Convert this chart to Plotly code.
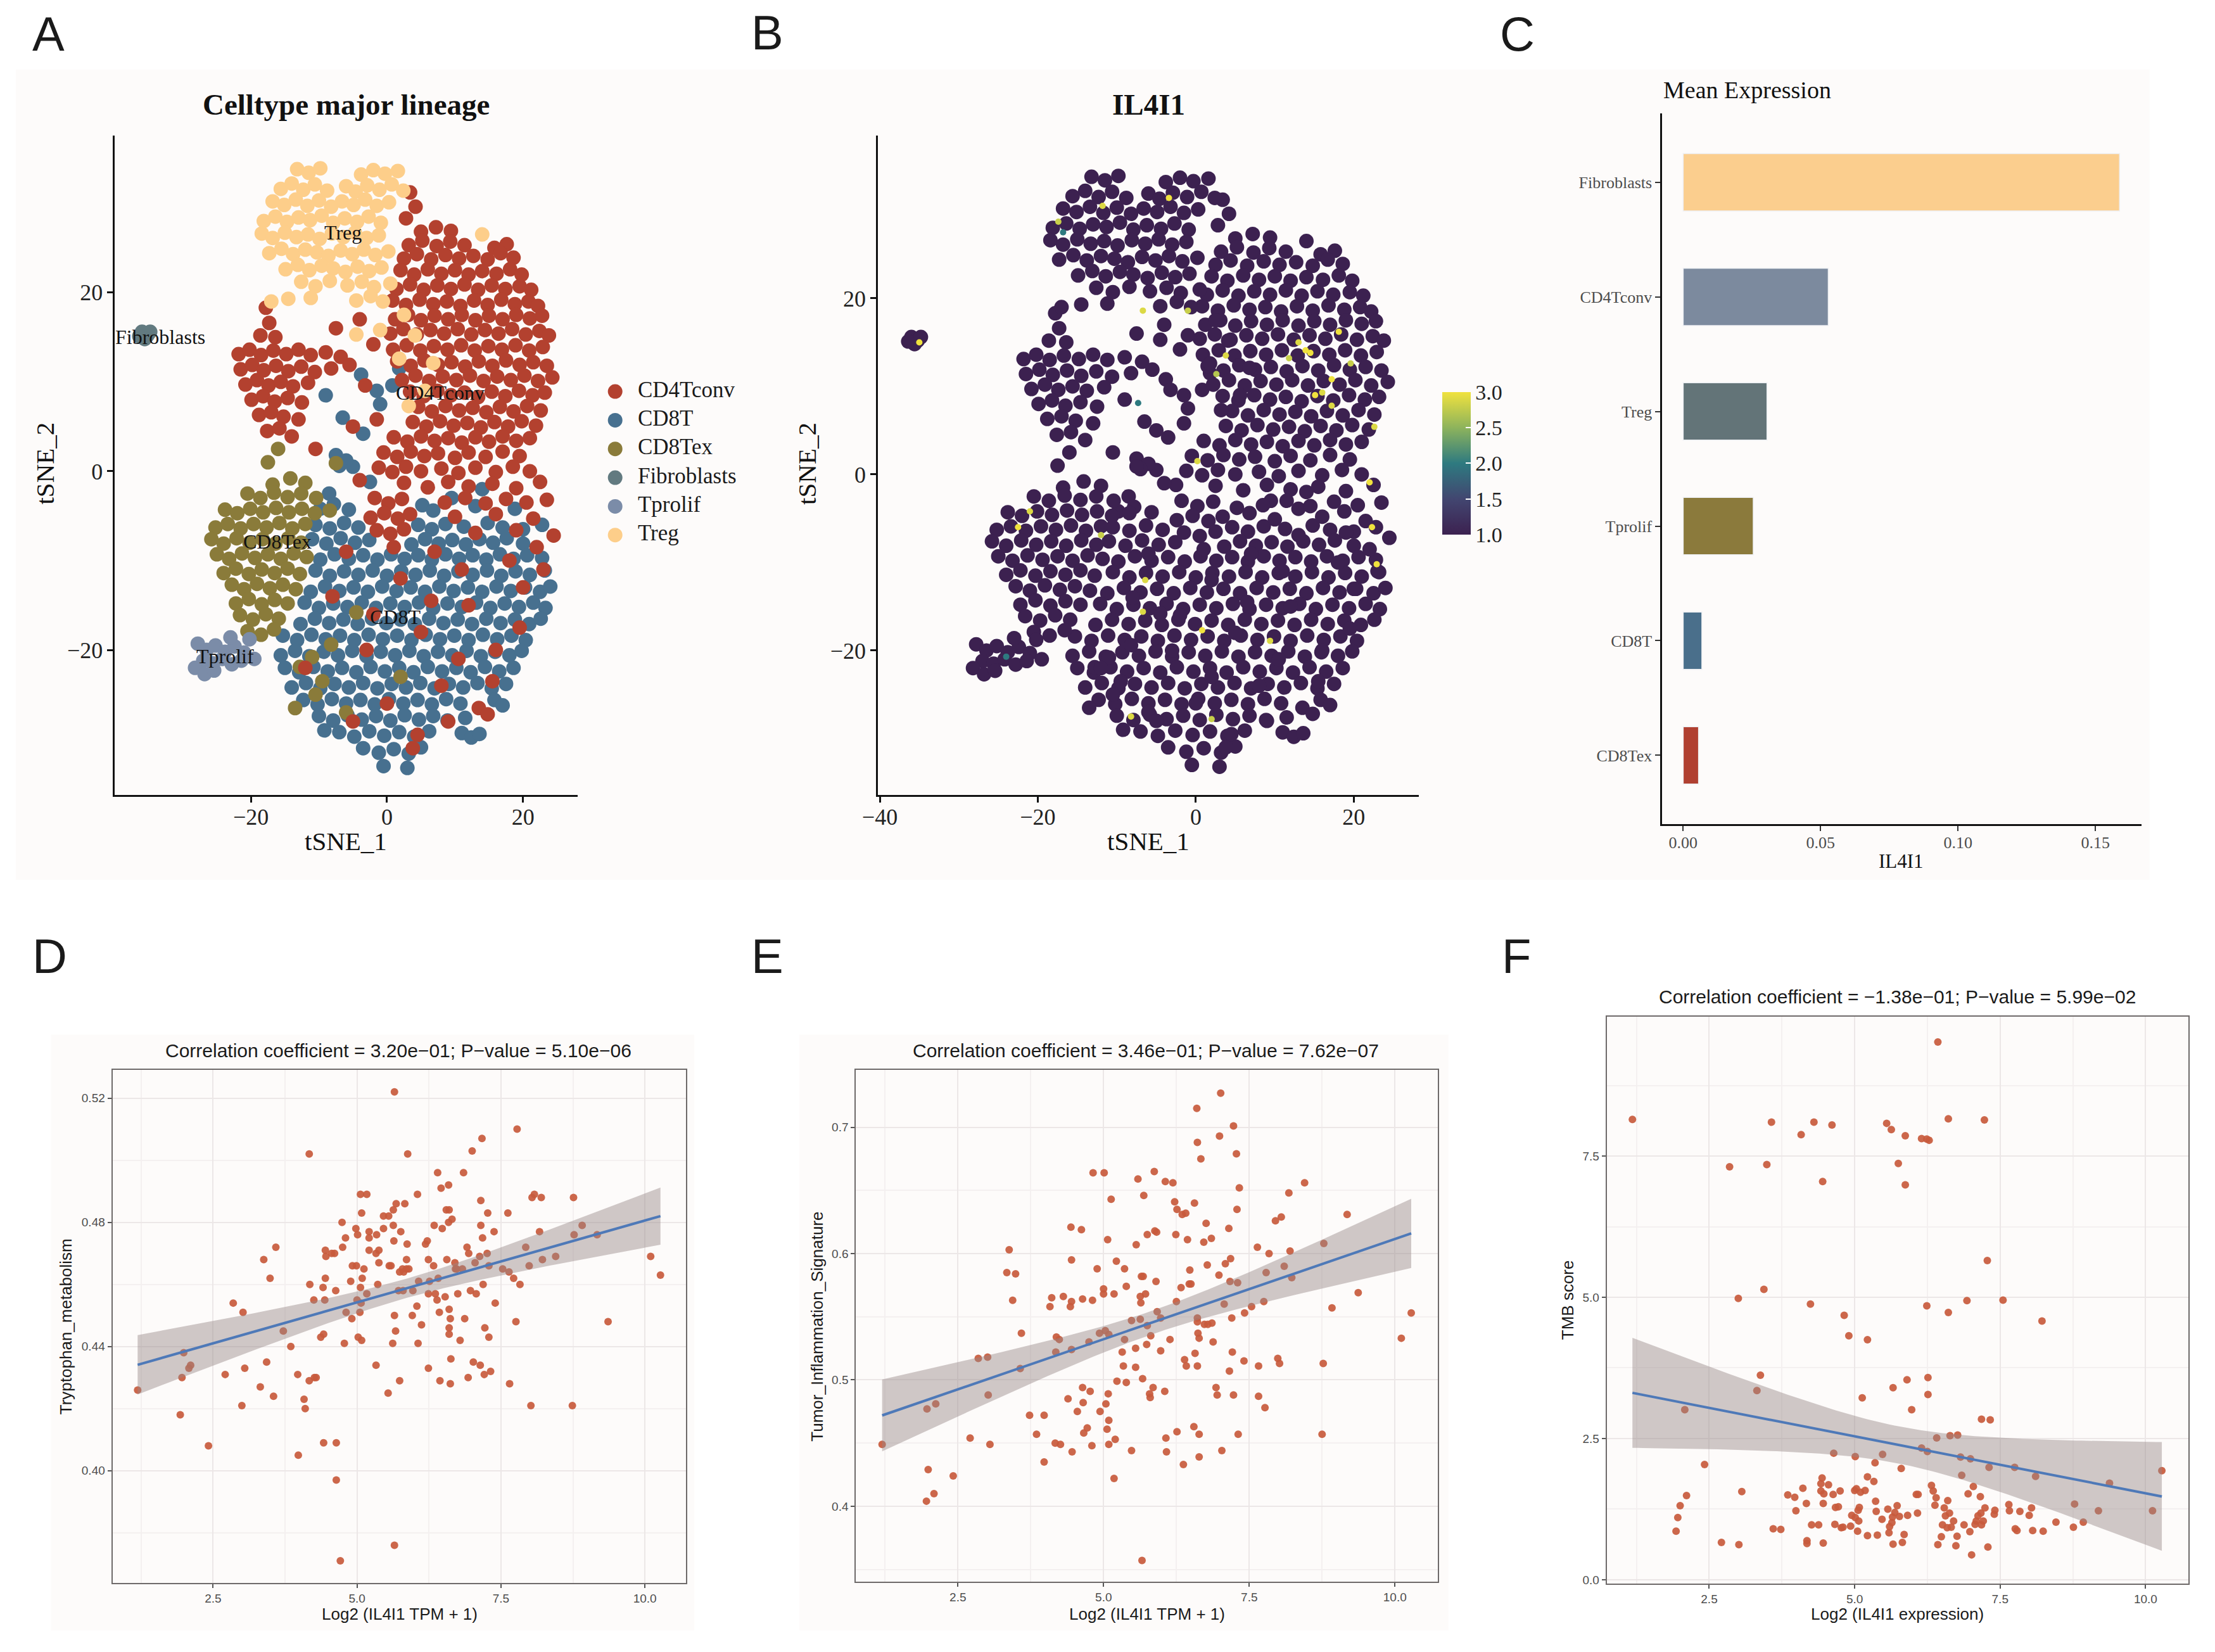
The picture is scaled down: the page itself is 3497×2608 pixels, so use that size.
import numpy as np
import plotly.graph_objects as go

SERIF = "Liberation Serif"
SANS = "Liberation Sans"

# ---------------- panel A / B : tSNE embedding (points read per cell type) ----------------
celltypes = ["CD4Tconv", "CD8T", "CD8Tex", "Fibroblasts", "Tprolif", "Treg"]
celltype_colors = ["#B3412F", "#47708F", "#8A7B3A", "#627A80", "#7B8CA8", "#FDCE8A"]

cd4tconv_xy = [
    (5.0, 26.8), (7.2, 27.3), (9.4, 26.9),
    (3.2, 25.3), (5.2, 25.8), (7.3, 25.2), (9.3, 25.7), (11.4, 25.3), (15.8, 25.0), (17.6, 25.4),
    (2.5, 23.8), (4.4, 24.3), (6.5, 23.7), (8.6, 24.2), (10.6, 23.8), (12.7, 24.1), (14.8, 23.7), (16.7, 24.4), (18.6, 23.9),
    (2.0, 22.5), (4.0, 22.0), (6.0, 22.6), (8.0, 22.1), (10.0, 22.5), (12.0, 22.0), (14.0, 22.4), (16.1, 22.1), (18.1, 22.6), (19.8, 22.0),
    (1.4, 20.4), (3.4, 20.9), (5.4, 20.3), (7.4, 20.8), (9.4, 20.4), (11.4, 20.9), (13.4, 20.3), (15.4, 20.8), (17.4, 20.4), (19.5, 20.7), (21.2, 20.3),
    (0.8, 19.1), (2.8, 18.6), (4.8, 19.2), (6.8, 18.7), (8.8, 19.0), (10.8, 18.5), (12.8, 19.1), (14.8, 18.6), (16.8, 19.2), (18.8, 18.7), (20.8, 19.0), (22.2, 18.5),
    (1.2, 17.0), (3.1, 17.5), (5.0, 16.9), (7.0, 17.4), (9.0, 17.0), (11.0, 17.5), (13.0, 16.9), (15.0, 17.4), (17.0, 17.0), (19.0, 17.5), (21.0, 17.1), (22.8, 17.4),
    (0.5, 15.4), (2.4, 15.9), (4.4, 15.3), (6.4, 15.8), (8.4, 15.4), (10.4, 15.9), (12.4, 15.3), (14.4, 15.8), (16.4, 15.4), (18.4, 15.9), (20.4, 15.3), (22.4, 15.7), (23.8, 15.2),
    (0.9, 13.6), (2.9, 14.1), (4.9, 13.5), (6.9, 14.0), (8.9, 13.6), (10.9, 14.1), (12.9, 13.5), (14.9, 14.0), (16.9, 13.6), (18.9, 14.1), (20.9, 13.5), (22.9, 13.9),
    (1.5, 12.3), (3.5, 11.8), (5.5, 12.4), (7.5, 11.9), (9.5, 12.2), (11.5, 11.7), (13.5, 12.3), (15.5, 11.8), (17.5, 12.4), (19.5, 11.9), (21.5, 12.2), (23.5, 11.8),
    (2.2, 10.2), (4.2, 10.7), (6.2, 10.1), (8.2, 10.6), (10.2, 10.2), (12.2, 10.7), (14.2, 10.1), (16.2, 10.6), (18.2, 10.2), (20.2, 10.7), (22.2, 10.1), (24.3, 10.5),
    (3.4, 8.9), (5.4, 8.4), (7.4, 9.0), (9.4, 8.5), (11.4, 8.8), (13.4, 8.3), (15.4, 8.9), (17.4, 8.4), (19.4, 9.0), (21.4, 8.5), (23.2, 8.8),
    (4.6, 7.2), (6.6, 6.7), (8.6, 7.3), (10.6, 6.8), (12.6, 7.1), (14.6, 6.6), (16.6, 7.2), (18.6, 6.7), (20.6, 7.3), (22.6, 6.8),
    (3.8, 5.5), (5.8, 5.0), (7.8, 5.6), (9.8, 5.1), (11.8, 5.4), (13.8, 4.9), (15.8, 5.5), (17.8, 5.0), (19.8, 5.6), (21.9, 5.1),
    (1.0, 3.8), (3.0, 3.3), (5.0, 3.9), (7.0, 3.4), (9.0, 3.7), (11.0, 3.2), (13.0, 3.8), (15.0, 3.3), (17.0, 3.9), (19.0, 3.4), (21.0, 3.7),
    (-0.5, 2.1), (1.5, 1.6), (3.5, 2.2), (5.5, 1.7), (7.5, 2.0), (10.0, 1.5), (12.0, 2.1), (14.5, 1.6), (17.0, 2.2), (19.5, 1.7),
    (-1.2, 0.4), (0.8, -0.1), (2.8, 0.5), (5.0, 0.0), (8.0, 0.3), (10.5, -0.2), (13.0, 0.4), (16.0, -0.1), (18.5, 0.5), (21.0, 0.0),
    (2.5, -1.3), (6.0, -1.8), (9.0, -1.2), (12.0, -1.7), (15.5, -1.4), (19.0, -1.9), (22.5, -1.2),
    (-1.8, -3.0), (0.2, -3.6), (2.2, -3.1), (8.5, -3.5), (11.5, -3.0), (14.5, -3.6), (17.5, -3.1), (20.5, -3.5), (23.5, -3.2),
    (-2.4, -5.2), (-0.4, -4.7), (1.6, -5.3), (3.4, -4.8), (10.0, -5.1), (16.0, -4.8), (21.5, -5.3),
    (-1.5, -6.6), (0.5, -7.0), (2.5, -6.5), (13.0, -6.9), (19.0, -6.6), (24.5, -7.2),
    (3.4, 31.2), (4.2, 29.6), (2.8, 28.3),
    # left CD4Tconv group
    (-17.8, 18.3), (-17.3, 16.6), (-18.6, 15.2), (-16.4, 15.0),
    (-21.8, 13.1), (-20.2, 13.6), (-18.5, 13.0), (-16.7, 13.5), (-14.8, 13.1), (-13.0, 13.6), (-11.2, 13.0), (-9.0, 13.3), (-6.8, 12.8),
    (-21.5, 11.4), (-19.8, 11.9), (-18.1, 11.3), (-16.3, 11.8), (-14.5, 11.2), (-12.6, 11.7), (-10.6, 11.1), (-8.2, 11.5), (-5.5, 11.9),
    (-20.8, 9.7), (-19.1, 10.2), (-17.4, 9.6), (-15.6, 10.0), (-13.8, 9.5), (-11.6, 9.9),
    (-19.9, 8.0), (-18.2, 8.4), (-16.5, 7.8), (-14.6, 8.2), (-12.5, 7.7),
    (-18.8, 6.3), (-17.0, 6.6), (-15.2, 6.1), (-13.0, 5.8),
    (-17.6, 4.5), (-15.8, 4.8), (-14.0, 3.9),
    (-5.0, 5.0), (-3.2, 9.6), (-2.0, 14.2), (-4.0, 17.0), (-7.5, 16.0), (-1.5, 5.8), (-10.5, 2.5), (-4.0, -1.0),
    # scattered among CD8T
    (-8.0, -14.0), (-3.0, -20.0), (2.0, -12.0), (5.0, -18.0), (8.0, -24.0), (12.0, -15.0), (16.0, -20.0), (20.0, -13.0),
    (22.0, -8.5), (-12.0, -22.0), (0.0, -26.0), (9.0, -28.0), (3.8, -31.0), (4.5, -29.5), (13.5, -26.5), (14.8, -27.2),
    (18.0, -10.0), (7.0, -9.0), (10.5, -21.0), (-5.0, -28.0), (15.5, -23.5), (23.0, -11.0), (-6.0, -9.0), (1.0, -8.5),
    (6.5, -14.5), (-2.0, -16.0), (11.0, -11.0), (19.5, -17.5),
]

cd8t_xy = [
    (-9.0, 8.5), (-6.5, 6.0), (-3.5, 4.2), (-1.0, 7.5), (0.8, 9.6), (-7.5, 1.8), (-5.0, 0.5), (-2.5, -1.2), (-8.5, -2.5),
    (1.8, 11.5), (-3.8, 10.8), (-6.0, 1.2), (-7.0, 0.6), (-1.5, 9.0), (9.5, -3.0), (14.0, -2.0), (20.0, -6.5),
    (-9.8, -4.2), (-7.8, -3.7), (-5.6, -4.3), (5.2, -3.8), (6.8, -4.4), (13.0, -3.9), (18.8, -4.2),
    (-10.5, -6.0), (-8.4, -6.4), (-6.3, -5.8), (-4.2, -6.3), (4.6, -6.0), (6.6, -6.5), (8.6, -5.9), (11.3, -6.2), (14.8, -5.8), (17.0, -6.3), (22.8, -6.0),
    (-11.0, -7.6), (-8.9, -8.1), (-6.8, -7.5), (-4.7, -8.0), (-2.6, -7.7), (3.6, -8.2), (5.6, -7.6), (7.6, -8.1), (9.6, -7.7), (11.6, -8.2), (13.6, -7.6), (15.6, -8.0), (17.6, -7.5), (20.0, -8.1),
    (-9.8, -9.9), (-7.7, -9.3), (-5.6, -9.8), (-3.5, -9.4), (-1.4, -9.9), (0.6, -9.3), (2.6, -9.8), (4.6, -9.4), (6.6, -9.9), (8.6, -9.3), (10.6, -9.8), (12.6, -9.4), (14.6, -9.9), (16.6, -9.3), (18.6, -9.8), (20.6, -9.4), (22.8, -9.7),
    (-10.5, -11.1), (-8.4, -11.7), (-6.3, -11.2), (-4.2, -11.6), (-2.1, -11.1), (0.0, -11.7), (2.1, -11.2), (4.2, -11.6), (6.3, -11.1), (8.4, -11.7), (10.5, -11.2), (12.6, -11.6), (14.7, -11.1), (16.8, -11.7), (18.9, -11.2), (21.0, -11.6), (23.2, -11.1),
    (-11.2, -13.5), (-9.1, -12.9), (-7.0, -13.4), (-4.9, -13.0), (-2.8, -13.5), (-0.7, -12.9), (1.4, -13.4), (3.5, -13.0), (5.6, -13.5), (7.7, -12.9), (9.8, -13.4), (11.9, -13.0), (14.0, -13.5), (16.1, -12.9), (18.2, -13.4), (20.3, -13.0), (22.5, -13.5), (24.0, -12.9),
    (-12.1, -14.7), (-10.0, -15.3), (-7.9, -14.8), (-5.8, -15.2), (-3.7, -14.7), (-1.6, -15.3), (0.5, -14.8), (2.6, -15.2), (4.7, -14.7), (6.8, -15.3), (8.9, -14.8), (11.0, -15.2), (13.1, -14.7), (15.2, -15.3), (17.3, -14.8), (19.4, -15.2), (21.5, -14.7), (23.3, -15.3),
    (-12.7, -17.1), (-10.6, -16.5), (-8.5, -17.0), (-6.4, -16.6), (-4.3, -17.1), (-2.2, -16.5), (-0.1, -17.0), (2.0, -16.6), (4.1, -17.1), (6.2, -16.5), (8.3, -17.0), (10.4, -16.6), (12.5, -17.1), (14.6, -16.5), (16.7, -17.0), (18.8, -16.6), (20.9, -17.1), (22.6, -16.5),
    (-15.3, -18.4), (-13.2, -18.9), (-11.1, -18.3), (-9.0, -18.8), (-6.9, -18.4), (-4.8, -18.9), (-2.7, -18.3), (-0.6, -18.8), (1.5, -18.4), (3.6, -18.9), (5.7, -18.3), (7.8, -18.8), (9.9, -18.4), (12.0, -18.9), (14.1, -18.3), (16.2, -18.8), (18.3, -18.4), (20.4, -18.9),
    (-15.6, -20.6), (-13.5, -20.1), (-11.4, -20.7), (-9.3, -20.2), (-7.2, -20.6), (-5.1, -20.1), (-3.0, -20.7), (-0.9, -20.2), (1.2, -20.6), (3.3, -20.1), (5.4, -20.7), (7.5, -20.2), (9.6, -20.6), (11.7, -20.1), (13.8, -20.7), (15.9, -20.2), (18.0, -20.6), (19.8, -20.1),
    (-15.0, -22.0), (-12.9, -22.5), (-10.8, -21.9), (-8.7, -22.4), (-6.6, -22.0), (-4.5, -22.5), (-2.4, -21.9), (-0.3, -22.4), (1.8, -22.0), (3.9, -22.5), (6.0, -21.9), (8.1, -22.4), (10.2, -22.0), (12.3, -22.5), (14.4, -21.9), (16.5, -22.4), (18.6, -22.0),
    (-14.0, -24.2), (-11.9, -23.7), (-9.8, -24.3), (-7.7, -23.8), (-5.6, -24.2), (-3.5, -23.7), (-1.4, -24.3), (0.7, -23.8), (2.8, -24.2), (4.9, -23.7), (7.0, -24.3), (9.1, -23.8), (11.2, -24.2), (13.3, -23.7), (15.4, -24.3), (17.5, -23.8),
    (-12.3, -25.6), (-10.2, -26.1), (-8.1, -25.5), (-6.0, -26.0), (-3.9, -25.6), (-1.8, -26.1), (0.3, -25.5), (2.4, -26.0), (4.5, -25.6), (6.6, -26.1), (8.7, -25.5), (10.8, -26.0), (15.8, -25.6), (17.0, -26.2),
    (-10.0, -27.4), (-7.9, -27.9), (-5.8, -27.3), (-3.7, -27.8), (-1.6, -27.4), (0.5, -27.9), (2.6, -27.3), (4.7, -27.8), (6.8, -27.4), (8.9, -27.9), (11.5, -27.6),
    (-9.2, -29.0), (-7.0, -29.2), (-4.8, -29.7), (-2.6, -29.1), (-0.4, -29.6), (1.8, -29.2), (4.0, -29.7), (6.2, -29.1), (11.0, -29.3), (12.4, -29.8), (13.6, -29.4),
    (-3.5, -31.0), (-1.2, -31.5), (1.0, -31.1), (3.2, -31.6), (5.0, -30.9),
    (-0.5, -33.0), (3.0, -33.2),
]

cd8tex_xy = [
    (-14.2, -0.8), (-16.8, -1.5), (-12.0, -1.3),
    (-20.5, -2.5), (-18.6, -3.0), (-16.6, -2.4), (-14.6, -2.9), (-12.6, -2.5), (-10.4, -3.0),
    (-23.8, -4.3), (-22.0, -4.7), (-20.1, -4.2), (-18.2, -4.6), (-16.3, -4.1), (-14.4, -4.6), (-12.5, -4.2), (-10.6, -4.7), (-8.4, -4.4),
    (-25.2, -6.3), (-23.4, -5.9), (-21.5, -6.4), (-19.6, -5.9), (-17.7, -6.3), (-15.8, -5.8), (-13.9, -6.4), (-12.0, -5.9),
    (-25.8, -7.6), (-24.0, -8.1), (-22.1, -7.5), (-20.2, -8.0), (-18.3, -7.6), (-16.4, -8.1), (-14.5, -7.5), (-12.6, -8.0),
    (-25.0, -9.3), (-23.2, -9.8), (-21.3, -9.2), (-19.4, -9.7), (-17.5, -9.3), (-15.6, -9.8), (-13.7, -9.2), (-11.8, -9.6),
    (-24.0, -11.4), (-22.2, -10.9), (-20.3, -11.5), (-18.4, -11.0), (-16.5, -11.4), (-14.6, -10.9), (-12.8, -11.5),
    (-22.8, -12.7), (-21.0, -13.2), (-19.1, -12.6), (-17.2, -13.1), (-15.3, -12.7), (-13.4, -13.2),
    (-22.2, -14.8), (-20.3, -14.3), (-18.4, -14.9), (-16.5, -14.4), (-14.6, -14.8),
    (-21.6, -16.1), (-19.7, -16.6), (-17.8, -16.0), (-15.9, -16.5),
    (-20.5, -17.9), (-18.5, -18.3), (-16.6, -17.7),
    (-11.0, -20.8), (-9.5, -23.5), (-12.8, -21.9), (-8.2, -19.4), (-6.0, -27.0), (2.0, -23.0), (-10.5, -25.0),
    (-13.5, -26.5), (-4.5, -15.8), (-7.5, 0.9), (-16.0, 2.5), (-17.5, 1.0),
]

fibroblasts_xy = [(-36.0, 15.6), (-35.2, 15.2), (-35.6, 14.8), (-34.8, 15.6), (-36.4, 15.1)]

tprolif_xy = [
    (-27.8, -19.3), (-26.5, -20.0), (-25.2, -19.5), (-23.8, -20.2), (-22.4, -19.6), (-21.0, -20.3),
    (-27.0, -21.2), (-25.6, -21.5), (-24.2, -21.0), (-22.8, -21.6), (-21.4, -21.2),
    (-28.2, -22.0), (-26.8, -22.7), (-25.4, -22.3), (-20.2, -18.8), (-23.0, -18.6), (-19.5, -21.0),
]

treg_xy = [
    (-13.2, 33.8), (-11.5, 33.4), (-9.8, 33.9), (-3.8, 33.2), (-2.0, 33.7), (-0.3, 33.3), (1.6, 33.6),
    (-15.6, 31.6), (-14.0, 32.2), (-12.3, 31.5), (-10.6, 32.1), (-8.8, 31.4), (-6.0, 31.9), (-4.6, 31.3), (-2.9, 32.0), (-1.1, 31.5), (0.7, 32.1), (2.4, 31.4),
    (-16.8, 30.2), (-15.1, 29.8), (-13.4, 30.4), (-11.7, 29.7), (-10.0, 30.3), (-8.2, 29.6), (-6.6, 30.2), (-4.9, 29.8), (-3.2, 30.4), (-1.5, 29.7), (0.3, 30.1),
    (-18.1, 28.0), (-16.4, 28.5), (-14.7, 27.9), (-13.0, 28.4), (-11.3, 28.1), (-9.6, 28.6), (-7.9, 27.8), (-6.2, 28.3), (-4.4, 27.9), (-2.7, 28.5), (-0.9, 27.8),
    (-18.4, 26.6), (-16.8, 26.1), (-15.0, 26.7), (-13.3, 26.2), (-11.6, 26.5), (-9.9, 26.0), (-8.1, 26.6), (-6.4, 26.2), (-4.7, 26.7), (-3.0, 26.1), (-1.2, 26.4),
    (-17.3, 24.4), (-15.5, 24.9), (-13.8, 24.3), (-12.0, 24.8), (-10.3, 24.5), (-8.6, 24.1), (-6.8, 24.7), (-5.1, 24.3), (-3.4, 24.8), (-1.7, 24.2), (0.2, 24.6),
    (-14.9, 22.6), (-13.1, 23.1), (-11.4, 22.5), (-9.6, 23.0), (-7.9, 22.7), (-6.1, 22.3), (-4.3, 22.9), (-2.6, 22.4), (-0.8, 22.8),
    (-12.6, 21.2), (-10.5, 20.7), (-8.4, 21.3), (-5.8, 20.8), (-3.7, 21.2), (-1.9, 20.6), (0.5, 21.0),
    (-11.2, 19.4), (-4.5, 19.1), (-2.4, 19.6), (-0.6, 19.0),
    (2.5, 17.5), (4.1, 15.2), (1.8, 12.6), (5.6, 9.0), (3.2, 7.3), (-1.0, 15.8), (-4.5, 15.3), (6.8, 12.1),
    (-14.5, 19.3), (14.0, 26.5), (-17.0, 19.0),
]

cluster_points = {
    "CD4Tconv": cd4tconv_xy, "CD8T": cd8t_xy, "CD8Tex": cd8tex_xy,
    "Fibroblasts": fibroblasts_xy, "Tprolif": tprolif_xy, "Treg": treg_xy,
}
draw_order = ["CD8T", "CD8Tex", "Tprolif", "Fibroblasts", "CD4Tconv", "Treg"]

label_names = ["Treg", "CD4Tconv", "CD8Tex", "CD8T", "Tprolif", "Fibroblasts"]
label_x = [-6.5, 7.8, -16.1, 1.2, -23.8, -33.3]
label_y = [26.7, 8.8, -7.9, -16.3, -20.7, 15.0]

# IL4I1 expression: almost every cell at the floor value, a few bright cells
il4i1_floor = 1.0
il4i1_hi_xy = [
    (14.5, 13.8), (15.1, 9.0), (16.0, 9.3), (18.1, 16.2), (19.6, 12.6), (17.2, 10.8), (3.8, 13.5), (2.6, 11.4),
    (22.6, 5.4), (22.0, -0.9), (22.3, -6.0), (13.0, 15.0), (13.9, 14.1), (11.8, 13.2), (17.2, 7.8), (-11.8, 30.5),
    (-3.4, 31.4), (-17.4, 28.7), (-6.7, 18.6), (-1.0, 18.6), (0.2, 1.5), (-21.0, -4.2), (-22.5, -6.0), (-12.0, -6.9),
    (-6.4, -12.0), (-6.7, -15.6), (0.8, -17.7), (-8.2, -27.5), (2.0, -27.8), (-35.0, 15.0), (9.4, -18.9), (22.9, -10.2),
    (-16.8, 27.5), (-7.3, 8.1), (-24.0, -20.7),
]
il4i1_hi_val = [
    3.0, 3.0, 2.9, 3.0, 2.8, 3.0, 2.9, 2.7,
    2.9, 3.0, 3.0, 2.9, 3.0, 2.8, 2.9, 2.9,
    3.0, 2.8, 2.9, 2.8, 2.9, 2.9, 3.0, 2.8,
    2.9, 2.9, 3.0, 2.9, 2.8, 3.0, 2.9, 3.0,
    2.0, 2.0, 2.0,
]
# colour bar as printed (a slightly muted viridis)
il4i1_scale = [[0.0, "#3C2150"], [0.25, "#424670"], [0.5, "#2E7A80"], [0.75, "#8DB35C"], [1.0, "#F0E23E"]]

# ---------------- panel C : mean expression ----------------
bar_cells = ["Fibroblasts", "CD4Tconv", "Treg", "Tprolif", "CD8T", "CD8Tex"]
bar_means = [0.1588, 0.0528, 0.0305, 0.0255, 0.0068, 0.0056]
bar_colors = ["#FBCE8E", "#7C8A9E", "#637478", "#8B7A3C", "#4A6F8B", "#B04031"]

# ---------------- panels D / E / F : bulk correlations ----------------
trp_x = [1.19, 1.93, 1.96, 1.99, 2.08, 2.11, 2.42, 2.71, 2.85, 3.00,
         3.02, 3.05, 3.32, 3.38, 3.43, 3.49, 3.55, 3.59, 3.72, 3.85,
         3.97, 3.98, 4.08, 4.10, 4.17, 4.17, 4.18, 4.25, 4.26, 4.29,
         4.37, 4.41, 4.42, 4.42, 4.44, 4.45, 4.45, 4.46, 4.56, 4.61,
         4.63, 4.64, 4.64, 4.71, 4.74, 4.75, 4.78, 4.80, 4.81, 4.89,
         4.91, 4.92, 4.98, 4.99, 5.00, 5.01, 5.02, 5.05, 5.06, 5.06,
         5.07, 5.08, 5.08, 5.09, 5.12, 5.17, 5.17, 5.21, 5.21, 5.21,
         5.33, 5.33, 5.34, 5.36, 5.38, 5.38, 5.46, 5.46, 5.54, 5.55,
         5.56, 5.59, 5.62, 5.63, 5.63, 5.64, 5.65, 5.65, 5.65, 5.67,
         5.68, 5.72, 5.74, 5.74, 5.76, 5.79, 5.80, 5.81, 5.83, 5.86,
         5.86, 5.87, 5.88, 5.90, 5.96, 5.97, 6.04, 6.05, 6.06, 6.07,
         6.12, 6.19, 6.22, 6.24, 6.24, 6.24, 6.26, 6.33, 6.34, 6.36,
         6.39, 6.40, 6.41, 6.43, 6.44, 6.46, 6.48, 6.53, 6.55, 6.56,
         6.59, 6.59, 6.60, 6.60, 6.60, 6.60, 6.62, 6.62, 6.63, 6.65,
         6.70, 6.71, 6.73, 6.75, 6.79, 6.83, 6.85, 6.87, 6.91, 6.93,
         6.94, 6.97, 7.00, 7.02, 7.05, 7.07, 7.13, 7.14, 7.15, 7.15,
         7.17, 7.18, 7.19, 7.21, 7.22, 7.26, 7.27, 7.29, 7.29, 7.32,
         7.38, 7.40, 7.53, 7.62, 7.64, 7.65, 7.72, 7.76, 7.78, 7.83,
         7.93, 7.99, 8.02, 8.04, 8.08, 8.17, 8.20, 8.22, 8.45, 8.74,
         8.76, 8.77, 8.91, 9.17, 9.36, 10.10, 10.27]
trp_y = [0.426, 0.418, 0.430, 0.438, 0.433, 0.434, 0.408, 0.431, 0.454, 0.421,
         0.451, 0.433, 0.427, 0.468, 0.435, 0.462, 0.424, 0.472, 0.445, 0.440,
         0.431, 0.405, 0.423, 0.420, 0.502, 0.429, 0.460, 0.455, 0.430, 0.430,
         0.443, 0.459, 0.409, 0.444, 0.455, 0.471, 0.462, 0.469, 0.470, 0.470,
         0.458, 0.397, 0.409, 0.371, 0.480, 0.472, 0.441, 0.475, 0.451, 0.461,
         0.449, 0.466, 0.478, 0.466, 0.455, 0.476, 0.443, 0.451, 0.489, 0.459,
         0.454, 0.483, 0.442, 0.462, 0.465, 0.489, 0.457, 0.477, 0.475, 0.471,
         0.470, 0.434, 0.476, 0.460, 0.467, 0.471, 0.478, 0.482, 0.425, 0.482,
         0.466, 0.466, 0.441, 0.479, 0.484, 0.474, 0.522, 0.450, 0.376, 0.445,
         0.486, 0.458, 0.464, 0.429, 0.477, 0.465, 0.458, 0.464, 0.486, 0.468,
         0.465, 0.473, 0.502, 0.465, 0.450, 0.458, 0.453, 0.489, 0.441, 0.461,
         0.447, 0.473, 0.474, 0.457, 0.468, 0.433, 0.461, 0.466, 0.479, 0.457,
         0.455, 0.496, 0.462, 0.451, 0.429, 0.491, 0.478, 0.456, 0.484, 0.468,
         0.492, 0.480, 0.484, 0.452, 0.446, 0.444, 0.449, 0.428, 0.436, 0.481,
         0.467, 0.465, 0.465, 0.457, 0.442, 0.465, 0.496, 0.449, 0.472, 0.430,
         0.470, 0.458, 0.503, 0.435, 0.467, 0.457, 0.469, 0.434, 0.479, 0.487,
         0.507, 0.475, 0.460, 0.431, 0.446, 0.470, 0.483, 0.443, 0.466, 0.432,
         0.477, 0.454, 0.465, 0.483, 0.464, 0.428, 0.462, 0.448, 0.510, 0.460,
         0.472, 0.466, 0.421, 0.488, 0.489, 0.477, 0.488, 0.468, 0.469, 0.421,
         0.488, 0.476, 0.479, 0.476, 0.448, 0.469, 0.463]

tis_x = [1.20, 1.96, 1.97, 1.99, 2.09, 2.12, 2.42, 2.71, 2.85, 3.01,
         3.02, 3.05, 3.34, 3.38, 3.44, 3.49, 3.57, 3.59, 3.73, 3.85,
         3.98, 3.98, 4.08, 4.11, 4.17, 4.18, 4.19, 4.24, 4.26, 4.31,
         4.39, 4.43, 4.44, 4.45, 4.45, 4.45, 4.46, 4.55, 4.62, 4.64,
         4.64, 4.65, 4.66, 4.72, 4.75, 4.77, 4.80, 4.81, 4.82, 4.89,
         4.93, 4.94, 5.00, 5.00, 5.01, 5.03, 5.04, 5.06, 5.07, 5.08,
         5.09, 5.09, 5.09, 5.13, 5.18, 5.18, 5.20, 5.22, 5.23, 5.32,
         5.34, 5.36, 5.36, 5.39, 5.39, 5.48, 5.48, 5.55, 5.55, 5.56,
         5.59, 5.63, 5.63, 5.64, 5.65, 5.66, 5.67, 5.68, 5.69, 5.72,
         5.74, 5.75, 5.75, 5.79, 5.80, 5.81, 5.85, 5.87, 5.88, 5.90,
         5.91, 5.92, 5.98, 5.98, 6.05, 6.06, 6.07, 6.08, 6.14, 6.19,
         6.22, 6.24, 6.25, 6.26, 6.26, 6.33, 6.35, 6.37, 6.39, 6.41,
         6.42, 6.44, 6.47, 6.48, 6.50, 6.55, 6.56, 6.57, 6.60, 6.61,
         6.61, 6.61, 6.61, 6.62, 6.64, 6.64, 6.64, 6.67, 6.72, 6.73,
         6.76, 6.78, 6.79, 6.85, 6.86, 6.88, 6.93, 6.95, 6.98, 6.99,
         7.01, 7.03, 7.07, 7.09, 7.15, 7.16, 7.17, 7.18, 7.20, 7.21,
         7.23, 7.23, 7.28, 7.29, 7.30, 7.31, 7.33, 7.41, 7.42, 7.54,
         7.64, 7.66, 7.66, 7.75, 7.77, 7.79, 7.84, 7.95, 7.99, 8.02,
         8.05, 8.10, 8.18, 8.20, 8.23, 8.45, 8.75, 8.77, 8.78, 8.92,
         9.18, 9.37, 10.11, 10.28]
tis_y = [0.449, 0.404, 0.477, 0.429, 0.410, 0.481, 0.424, 0.454, 0.517, 0.518,
         0.488, 0.449, 0.585, 0.603, 0.563, 0.584, 0.509, 0.537, 0.472, 0.457,
         0.472, 0.435, 0.558, 0.565, 0.450, 0.522, 0.534, 0.532, 0.449, 0.566,
         0.485, 0.558, 0.621, 0.595, 0.562, 0.524, 0.443, 0.475, 0.619, 0.564,
         0.494, 0.482, 0.458, 0.462, 0.530, 0.491, 0.448, 0.563, 0.664, 0.588,
         0.537, 0.475, 0.568, 0.572, 0.664, 0.539, 0.481, 0.461, 0.611, 0.489,
         0.449, 0.468, 0.536, 0.643, 0.568, 0.422, 0.453, 0.594, 0.499, 0.522,
         0.511, 0.588, 0.532, 0.574, 0.498, 0.547, 0.444, 0.525, 0.510, 0.607,
         0.659, 0.566, 0.548, 0.561, 0.582, 0.357, 0.501, 0.582, 0.646, 0.568,
         0.528, 0.615, 0.543, 0.489, 0.486, 0.535, 0.494, 0.665, 0.618, 0.578,
         0.617, 0.554, 0.523, 0.549, 0.491, 0.657, 0.454, 0.443, 0.532, 0.656,
         0.641, 0.615, 0.562, 0.459, 0.635, 0.573, 0.631, 0.433, 0.516, 0.632,
         0.511, 0.611, 0.576, 0.587, 0.576, 0.463, 0.640, 0.521, 0.715, 0.688,
         0.549, 0.546, 0.511, 0.537, 0.533, 0.457, 0.439, 0.675, 0.609, 0.544,
         0.624, 0.591, 0.544, 0.612, 0.545, 0.530, 0.494, 0.488, 0.583, 0.693,
         0.727, 0.444, 0.560, 0.592, 0.620, 0.507, 0.578, 0.596, 0.549, 0.522,
         0.701, 0.488, 0.679, 0.635, 0.577, 0.457, 0.652, 0.515, 0.553, 0.558,
         0.605, 0.511, 0.487, 0.562, 0.478, 0.585, 0.600, 0.626, 0.517, 0.513,
         0.629, 0.590, 0.648, 0.602, 0.581, 0.656, 0.457, 0.513, 0.608, 0.557,
         0.631, 0.569, 0.533, 0.553]

tmb_x = [1.18, 1.93, 1.96, 2.00, 2.08, 2.11, 2.42, 2.71, 2.85, 3.00,
         3.01, 3.06, 3.32, 3.38, 3.44, 3.49, 3.57, 3.60, 3.73, 3.85,
         3.97, 3.99, 4.08, 4.11, 4.17, 4.18, 4.18, 4.24, 4.26, 4.30,
         4.38, 4.42, 4.42, 4.44, 4.45, 4.46, 4.46, 4.47, 4.55, 4.61,
         4.63, 4.64, 4.66, 4.67, 4.72, 4.75, 4.77, 4.80, 4.82, 4.90,
         4.93, 4.95, 5.00, 5.01, 5.01, 5.03, 5.05, 5.06, 5.07, 5.08,
         5.10, 5.13, 5.18, 5.22, 5.22, 5.22, 5.33, 5.35, 5.36, 5.37,
         5.39, 5.47, 5.48, 5.55, 5.57, 5.59, 5.60, 5.63, 5.64, 5.65,
         5.66, 5.66, 5.69, 5.73, 5.75, 5.77, 5.80, 5.82, 5.85, 5.87,
         5.87, 5.90, 5.91, 5.98, 6.06, 6.08, 6.09, 6.15, 6.15, 6.24,
         6.24, 6.25, 6.26, 6.26, 6.28, 6.32, 6.35, 6.38, 6.40, 6.41,
         6.43, 6.43, 6.49, 6.51, 6.54, 6.56, 6.59, 6.60, 6.61, 6.61,
         6.63, 6.64, 6.66, 6.70, 6.74, 6.76, 6.77, 6.82, 6.84, 6.88,
         6.93, 6.95, 6.98, 6.99, 7.01, 7.04, 7.07, 7.09, 7.12, 7.16,
         7.17, 7.18, 7.18, 7.21, 7.23, 7.24, 7.28, 7.29, 7.31, 7.33,
         7.40, 7.41, 7.55, 7.65, 7.66, 7.75, 7.76, 7.79, 7.84, 8.00,
         8.04, 8.06, 8.11, 8.22, 8.24, 8.46, 8.76, 8.78, 8.93, 9.19,
         9.38, 10.12, 10.28]
tmb_y = [8.15, 0.86, 1.10, 1.31, 3.01, 1.49, 2.04, 0.66, 7.31, 4.98,
         0.62, 1.56, 3.35, 3.62, 5.14, 7.35, 8.10, 0.90, 0.89, 1.50,
         1.46, 1.22, 7.88, 1.62, 1.35, 0.69, 0.64, 4.88, 0.97, 8.10,
         0.97, 1.57, 1.70, 1.80, 7.05, 1.35, 0.65, 1.52, 1.68, 8.05,
         1.51, 2.24, 0.98, 1.28, 1.29, 1.57, 0.92, 0.93, 4.68, 4.32,
         0.95, 1.14, 1.58, 2.18, 1.10, 1.61, 0.86, 1.23, 1.04, 1.28,
         1.55, 3.22, 1.58, 4.25, 1.82, 0.78, 1.74, 2.07, 1.39, 1.21,
         0.79, 1.07, 2.22, 8.08, 1.25, 0.83, 0.94, 7.97, 1.01, 1.11,
         3.40, 0.63, 1.19, 1.31, 7.37, 1.12, 1.97, 0.66, 0.80, 7.86,
         6.99, 3.54, 1.14, 3.01, 1.51, 1.18, 1.51, 2.33, 7.81, 4.85,
         7.80, 2.27, 3.58, 3.28, 7.78, 1.67, 1.57, 1.32, 1.45, 2.51,
         0.62, 9.52, 0.76, 0.97, 1.27, 1.13, 0.92, 1.40, 8.16, 4.73,
         1.18, 2.55, 0.93, 1.04, 0.60, 0.77, 2.56, 2.17, 1.85, 0.97,
         4.94, 1.52, 0.85, 2.14, 0.44, 1.65, 0.98, 1.04, 1.13, 1.47,
         1.18, 2.84, 0.97, 1.04, 8.14, 1.27, 5.65, 0.58, 1.99, 2.83,
         1.16, 1.23, 4.95, 1.33, 1.22, 1.99, 0.90, 0.87, 1.21, 1.14,
         1.27, 0.87, 1.83, 4.58, 0.86, 1.02, 0.93, 1.34, 1.02, 1.22,
         1.71, 1.22, 1.93]

assert len(trp_x) == len(trp_y) and len(tis_x) == len(tis_y) and len(tmb_x) == len(tmb_y)

corr_titles = [
    "Correlation coefficient = 3.20e\u221201; P\u2212value = 5.10e\u221206",
    "Correlation coefficient = 3.46e\u221201; P\u2212value = 7.62e\u221207",
    "Correlation coefficient = \u22121.38e\u221201; P\u2212value = 5.99e\u221202",
]

# ---------------- helpers ----------------
W, H = 3497, 2608
BG = "#FDFBFA"
POINT = "#C85A3C"


def unzip(pts):
    return [p[0] for p in pts], [p[1] for p in pts]


def lm_band(x, y, t=1.973):
    x = np.asarray(x, float)
    y = np.asarray(y, float)
    n = len(x)
    b, a = np.polyfit(x, y, 1)
    xs = np.linspace(x.min(), x.max(), 100)
    fit = a + b * xs
    resid = y - (a + b * x)
    s = np.sqrt((resid ** 2).sum() / (n - 2))
    sxx = ((x - x.mean()) ** 2).sum()
    se = s * np.sqrt(1.0 / n + (xs - x.mean()) ** 2 / sxx)
    return xs, fit, fit - t * se, fit + t * se


fig = go.Figure()

# panel A
tsne_size = 23
for name in draw_order:
    xs, ys = unzip(cluster_points[name])
    fig.add_trace(go.Scatter(
        x=xs, y=ys, mode="markers", xaxis="x", yaxis="y", showlegend=False, hoverinfo="skip",
        marker=dict(size=tsne_size, color=celltype_colors[celltypes.index(name)], line=dict(width=0)),
    ))

# legend for A, drawn on its own small axis (x7 units are ~pixels)
fig.add_trace(go.Scatter(
    x=[0] * len(celltypes), y=list(range(len(celltypes))), mode="markers", xaxis="x7", yaxis="y7",
    showlegend=False, hoverinfo="skip", marker=dict(size=23, color=celltype_colors, line=dict(width=0)),
))
fig.add_trace(go.Scatter(
    x=[36] * len(celltypes), y=list(range(len(celltypes))), mode="text", text=celltypes,
    textposition="middle right", xaxis="x7", yaxis="y7", showlegend=False, hoverinfo="skip",
    textfont=dict(family=SERIF, size=35, color="#1a1a1a"),
))

# panel B
all_x, all_y = [], []
for name in draw_order:
    xs, ys = unzip(cluster_points[name])
    all_x += xs
    all_y += ys
hx, hy = unzip(il4i1_hi_xy)
b_x = all_x + hx
b_y = all_y + hy
b_val = [il4i1_floor] * len(all_x) + il4i1_hi_val
b_size = [tsne_size] * len(all_x) + [10] * len(hx)
fig.add_trace(go.Scatter(
    x=b_x, y=b_y, mode="markers", xaxis="x2", yaxis="y2", showlegend=False, hoverinfo="skip",
    marker=dict(size=b_size, opacity=1.0, color=b_val, colorscale=il4i1_scale, cmin=1.0, cmax=3.0,
                line=dict(width=0),
                colorbar=dict(x=2268 / W, xanchor="left", y=1 - 732.5 / H, yanchor="middle",
                              len=225 / H, lenmode="fraction", thickness=45, thicknessmode="pixels",
                              xpad=0, ypad=0, outlinewidth=0, tickvals=[1.0, 1.5, 2.0, 2.5, 3.0],
                              ticktext=["1.0", "1.5", "2.0", "2.5", "3.0"], ticks="inside", ticklen=8,
                              tickcolor="white", tickwidth=2,
                              tickfont=dict(family=SERIF, size=34, color="#222"))),
))

# panel C
fig.add_trace(go.Bar(
    x=bar_means, y=bar_cells, orientation="h", width=0.5, xaxis="x3", yaxis="y3", showlegend=False,
    marker=dict(color=bar_colors, line=dict(width=1.5, color="#EEF0F3")), hoverinfo="skip",
))

# panels D / E / F
for (xv, yv), ax in zip([(trp_x, trp_y), (tis_x, tis_y), (tmb_x, tmb_y)], ["4", "5", "6"]):
    fig.add_trace(go.Scatter(
        x=xv, y=yv, mode="markers", xaxis="x" + ax, yaxis="y" + ax, showlegend=False, hoverinfo="skip",
        marker=dict(size=12, color=POINT, opacity=0.92, line=dict(width=0)),
    ))
    xs, fit, lo, hi = lm_band(xv, yv)
    fig.add_trace(go.Scatter(
        x=list(xs) + list(xs[::-1]), y=list(hi) + list(lo[::-1]), mode="lines", fill="toself",
        fillcolor="rgba(150,136,136,0.45)", line=dict(width=0), xaxis="x" + ax, yaxis="y" + ax,
        showlegend=False, hoverinfo="skip",
    ))
    fig.add_trace(go.Scatter(
        x=xs, y=fit, mode="lines", line=dict(color="#4E79B8", width=4), xaxis="x" + ax, yaxis="y" + ax,
        showlegend=False, hoverinfo="skip",
    ))

# ---------------- axes ----------------
tsne_tick = dict(family=SERIF, size=36, color="#222")


def tsne_axis(domain, rng, ticks, anchor, standoff=0):
    return dict(domain=domain, range=rng, tickvals=ticks, anchor=anchor, showgrid=False, zeroline=False,
                showline=True, linecolor="#111", linewidth=2.5, ticks="outside", ticklen=9, tickwidth=2.5,
                tickcolor="#111", tickfont=tsne_tick, ticklabelstandoff=standoff)


def bw_axis(domain, rng, ticks, minor, fmt, anchor):
    return dict(domain=domain, range=rng, tickvals=ticks, tickformat=fmt, anchor=anchor,
                showgrid=True, gridcolor="#ECE7E7", gridwidth=2, zeroline=False,
                minor=dict(tickvals=minor, showgrid=True, gridcolor="#F4F0F0", gridwidth=1.5, ticks=""),
                showline=True, mirror=True, linecolor="#6E6A6A", linewidth=2,
                ticks="outside", ticklen=6, tickwidth=2, tickcolor="#555",
                tickfont=dict(family=SANS, size=19, color="#4D4D4D"))


fig.update_layout(
    width=W, height=H, margin=dict(l=0, r=0, t=0, b=0), paper_bgcolor="white", plot_bgcolor=BG,
    showlegend=False,
    xaxis=tsne_axis([0.0450, 0.2556], [-40.0, 28.07], [-20, 0, 20], "y", -8),
    yaxis=tsne_axis([0.5181, 0.9179], [-36.22, 37.58], [-20, 0, 20], "x"),
    xaxis2=tsne_axis([0.3920, 0.6380], [-40.24, 28.24], [-40, -20, 0, 20], "y2", -8),
    yaxis2=tsne_axis([0.5181, 0.9179], [-36.4, 38.5], [-20, 0, 20], "x2"),
    xaxis3=dict(domain=[0.7486, 0.9666], range=[-0.00766, 0.1668], tickvals=[0, 0.05, 0.10, 0.15],
                tickformat=".2f", anchor="y3", showgrid=False, zeroline=False, showline=True,
                linecolor="#111", linewidth=2.5, ticks="outside", ticklen=8, tickwidth=2, tickcolor="#333",
                ticklabelstandoff=-4, tickfont=dict(family=SERIF, size=26, color="#4D4D4D")),
    yaxis3=dict(domain=[0.5004, 0.9312], type="category", categoryorder="array", categoryarray=bar_cells,
                range=[5.6, -0.6], anchor="x3", showgrid=False, zeroline=False, showline=True,
                linecolor="#111", linewidth=2.5, ticks="outside", ticklen=8, tickwidth=2, tickcolor="#333",
                tickfont=dict(family=SERIF, size=26, color="#4D4D4D")),
    xaxis4=bw_axis([0.04395, 0.3048], [0.753, 10.716], [2.5, 5.0, 7.5, 10.0], [1.25, 3.75, 6.25, 8.75], ".1f", "y4"),
    yaxis4=bw_axis([0.0404, 0.3512], [0.3639, 0.529], [0.40, 0.44, 0.48, 0.52], [0.38, 0.42, 0.46, 0.50], ".2f", "x4"),
    xaxis5=bw_axis([0.3820, 0.6467], [0.75, 10.74], [2.5, 5.0, 7.5, 10.0], [1.25, 3.75, 6.25, 8.75], ".1f", "y5"),
    yaxis5=bw_axis([0.0409, 0.3512], [0.340, 0.7452], [0.4, 0.5, 0.6, 0.7], [0.35, 0.45, 0.55, 0.65], ".1f", "x5"),
    xaxis6=bw_axis([0.7234, 0.9880], [0.738, 10.74], [2.5, 5.0, 7.5, 10.0], [1.25, 3.75, 6.25, 8.75], ".1f", "y6"),
    yaxis6=bw_axis([0.0399, 0.3837], [-0.07, 9.97], [0.0, 2.5, 5.0, 7.5], [1.25, 3.75, 6.25, 8.75], ".1f", "x6"),
    xaxis7=dict(domain=[930 / W, 1200 / W], range=[-23, 247], visible=False, fixedrange=True, anchor="y7"),
    yaxis7=dict(domain=[1 - 868.7 / H, 1 - 596.3 / H], range=[5.5, -0.5], visible=False, fixedrange=True, anchor="x7"),
)

# ---------------- backgrounds ----------------
shapes = [
    dict(type="rect", xref="paper", yref="paper", x0=0, x1=3393 / W, y0=1 - 1391 / H, y1=1 - 110 / H,
         fillcolor=BG, line=dict(width=0), layer="below"),
    dict(type="rect", xref="paper", yref="paper", x0=56 / W, x1=1079 / W, y0=1 - 2578 / H, y1=1 - 1636 / H,
         fillcolor=BG, line=dict(width=0), layer="below"),
    dict(type="rect", xref="paper", yref="paper", x0=1246 / W, x1=2278 / W, y0=1 - 2578 / H, y1=1 - 1636 / H,
         fillcolor=BG, line=dict(width=0), layer="below"),
]
fig.update_layout(shapes=shapes)

# ---------------- text ----------------
ann = []


def paper_text(text, x, y, size, family, color="#1a1a1a", angle=0, xanchor="center", bold=False):
    ann.append(dict(text=("<b>%s</b>" % text) if bold else text, x=x / W, y=1 - y / H, xref="paper",
                    yref="paper", showarrow=False, xanchor=xanchor, yanchor="middle", textangle=angle,
                    font=dict(family=family, size=size, color=color)))


for letter, lx, ly in [("A", 52, 54), ("B", 1195, 52), ("C", 2388, 54), ("D", 54, 1512), ("E", 1195, 1512), ("F", 2386, 1512)]:
    paper_text(letter, lx, ly, 76, SANS, "#1a1a1a")

paper_text("Celltype major lineage", 525, 165, 47, SERIF, "#111", bold=True)
paper_text("IL4I1", 1801, 165, 47, SERIF, "#111", bold=True)
paper_text("tSNE_1", 525, 1330, 41, SERIF, "#111")
paper_text("tSNE_2", 46, 733, 41, SERIF, "#111", angle=-90)
paper_text("tSNE_1", 1801, 1330, 41, SERIF, "#111")
paper_text("tSNE_2", 1258, 733, 41, SERIF, "#111", angle=-90)
paper_text("Mean Expression", 2618, 142, 38, SERIF, "#111", xanchor="left")
paper_text("IL4I1", 2998, 1362, 31, SERIF, "#111")

paper_text(corr_titles[0], 608, 1661, 30, SANS)
paper_text(corr_titles[1], 1797, 1661, 30, SANS)
paper_text(corr_titles[2], 2992, 1576, 30, SANS)
paper_text("Log2 (IL4I1 TPM + 1)", 610, 2552, 26, SANS)
paper_text("Log2 (IL4I1 TPM + 1)", 1799, 2552, 26, SANS)
paper_text("Log2 (IL4I1 expression)", 2992, 2552, 26, SANS)
paper_text("Tryptophan_metabolism", 79, 2097, 26, SANS, angle=-90)
paper_text("Tumor_Inflammation_Signature", 1274, 2097, 26, SANS, angle=-90)
paper_text("TMB score", 2467, 2055, 26, SANS, angle=-90)

for name, lx, ly in zip(label_names, label_x, label_y):
    ann.append(dict(text=name, x=lx, y=ly, xref="x", yref="y", showarrow=False,
                    font=dict(family=SERIF, size=32, color="#111")))

fig.update_layout(annotations=ann)

# the page itself adds no margin around the figure
fig.write_html("out.html", config={"displayModeBar": False},
               post_script="document.body.style.margin='0';document.body.style.overflow='hidden';")
